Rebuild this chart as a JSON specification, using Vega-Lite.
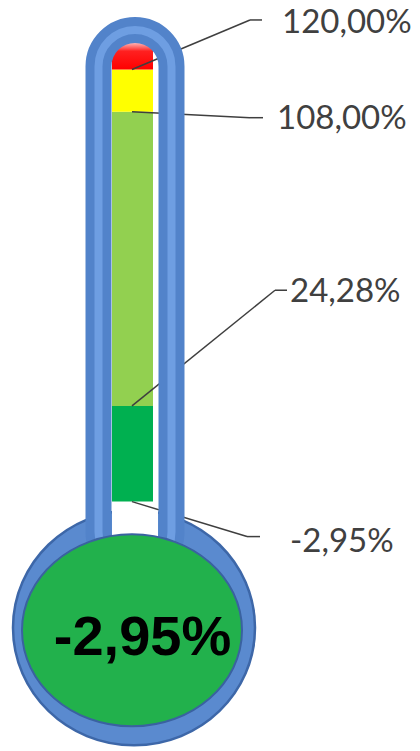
{
  "$schema": "https://vega.github.io/schema/vega-lite/v6.json",
  "width": 420,
  "height": 751,
  "autosize": {"type": "fit", "contains": "padding"},
  "padding": 0,
  "background": "white",
  "config": {"view": {"stroke": null}},
  "datasets": {
    "segments": [
      {"segment": "a", "start": -2.95, "end": 24.28},
      {"segment": "b", "start": 24.28, "end": 108},
      {"segment": "c", "start": 108, "end": 120},
      {"segment": "d", "start": 120, "end": 128}
    ],
    "labels": [
      {"label": "120,00%", "value": 120, "lineY": 134.1, "elbowX": 250, "lineEndX": 262, "labelX": 282, "labelY": 133.25},
      {"label": "108,00%", "value": 108, "lineY": 106.29, "elbowX": 250, "lineEndX": 263, "labelX": 277, "labelY": 106.01},
      {"label": "24,28%", "value": 24.28, "lineY": 57.2, "elbowX": 275, "lineEndX": 287, "labelX": 290, "labelY": 56.63},
      {"label": "-2,95%", "value": -2.95, "lineY": -12.9, "elbowX": 247, "lineEndX": 260, "labelX": 290, "labelY": -14.32}
    ],
    "bulb": [{"text": "-2,95%", "value": -2.95}]
  },
  "layer": [
    {
      "data": {"name": "bulb"},
      "mark": {
        "type": "point",
        "shape": "M1.0298,0C1.0298,0.5523 0.5687,1 0,1C-0.5687,1 -1.0298,0.5523 -1.0298,0C-1.0298,-0.5523 -0.5687,-1 0,-1C0.5687,-1 1.0298,-0.5523 1.0298,0Z",
        "size": 55225,
        "filled": true,
        "fill": "#5A8ACF",
        "stroke": "#3D67A8",
        "strokeWidth": 2.5,
        "opacity": 1,
        "fillOpacity": 1
      },
      "encoding": {
        "x": {"datum": 134, "type": "quantitative", "scale": {"domain": [0, 420], "nice": false, "zero": false}, "axis": null},
        "y": {"datum": -38.87, "type": "quantitative", "scale": {"domain": [-73.34, 139.78], "nice": false, "zero": false}, "axis": null}
      }
    },
    {
      "data": {"name": "bulb"},
      "mark": {"type": "rect", "fill": "white"},
      "encoding": {
        "x": {"datum": 112, "type": "quantitative", "scale": {"domain": [0, 420], "nice": false, "zero": false}, "axis": null},
        "x2": {"datum": 158},
        "y": {"datum": 128.43, "type": "quantitative", "scale": {"domain": [-73.34, 139.78], "nice": false, "zero": false}, "axis": null},
        "y2": {"datum": -14.89}
      }
    },
    {
      "data": {"name": "segments"},
      "transform": [{"filter": "datum.segment != 'd'"}],
      "mark": {"type": "rect"},
      "encoding": {
        "x": {"datum": 112, "type": "quantitative", "scale": {"domain": [0, 420], "nice": false, "zero": false}, "axis": null},
        "x2": {"datum": 153},
        "y": {"field": "start", "type": "quantitative", "scale": {"domain": [-73.34, 139.78], "nice": false, "zero": false}, "axis": null},
        "y2": {"field": "end"},
        "color": {"field": "segment", "type": "nominal", "scale": {"domain": ["a", "b", "c", "d"], "range": ["#00B050", "#92D050", "#FFFF00", "#FF0000"]}, "legend": null}
      }
    },
    {
      "data": {"name": "segments"},
      "transform": [{"filter": "datum.segment == 'd'"}],
      "mark": {
        "type": "rect",
        "fill": {"gradient": "linear", "x1": 0, "y1": 0, "x2": 0, "y2": 1, "stops": [{"offset": 0, "color": "#FFD0D0"}, {"offset": 0.35, "color": "#FF2020"}, {"offset": 1, "color": "#FF0000"}]}
      },
      "encoding": {
        "x": {"datum": 112, "type": "quantitative", "scale": {"domain": [0, 420], "nice": false, "zero": false}, "axis": null},
        "x2": {"datum": 153},
        "y": {"field": "start", "type": "quantitative", "scale": {"domain": [-73.34, 139.78], "nice": false, "zero": false}, "axis": null},
        "y2": {"field": "end"}
      }
    },
    {
      "data": {"name": "labels"},
      "mark": {"type": "rule", "stroke": "#3F3F3F", "strokeWidth": 1.5},
      "encoding": {
        "x": {"field": "elbowX", "type": "quantitative", "scale": {"domain": [0, 420], "nice": false, "zero": false}, "axis": null},
        "x2": {"datum": 132},
        "y": {"field": "lineY", "type": "quantitative", "scale": {"domain": [-73.34, 139.78], "nice": false, "zero": false}, "axis": null},
        "y2": {"field": "value"}
      }
    },
    {
      "data": {"name": "labels"},
      "mark": {"type": "rule", "stroke": "#3F3F3F", "strokeWidth": 1.5},
      "encoding": {
        "x": {"field": "elbowX", "type": "quantitative", "scale": {"domain": [0, 420], "nice": false, "zero": false}, "axis": null},
        "x2": {"field": "lineEndX"},
        "y": {"field": "lineY", "type": "quantitative", "scale": {"domain": [-73.34, 139.78], "nice": false, "zero": false}, "axis": null}
      }
    },
    {
      "data": {"name": "bulb"},
      "mark": {"type": "rect", "fill": "transparent", "stroke": "#5283CA", "strokeWidth": 26, "cornerRadius": 36.5},
      "encoding": {
        "x": {"datum": 98.5, "type": "quantitative", "scale": {"domain": [0, 420], "nice": false, "zero": false}, "axis": null},
        "x2": {"datum": 171.5},
        "y": {"datum": 131.27, "type": "quantitative", "scale": {"domain": [-73.34, 139.78], "nice": false, "zero": false}, "axis": null},
        "y2": {"datum": -21.98}
      }
    },
    {
      "data": {"name": "bulb"},
      "mark": {"type": "rect", "fill": "transparent", "stroke": "#6E9EE2", "strokeWidth": 8, "cornerRadius": 36.5},
      "encoding": {
        "x": {"datum": 98.5, "type": "quantitative", "scale": {"domain": [0, 420], "nice": false, "zero": false}, "axis": null},
        "x2": {"datum": 171.5},
        "y": {"datum": 131.27, "type": "quantitative", "scale": {"domain": [-73.34, 139.78], "nice": false, "zero": false}, "axis": null},
        "y2": {"datum": -21.98}
      }
    },
    {
      "data": {"name": "bulb"},
      "mark": {
        "type": "point",
        "shape": "M1.1458,0C1.1458,0.5523 0.6328,1 0,1C-0.6328,1 -1.1458,0.5523 -1.1458,0C-1.1458,-0.5523 -0.6328,-1 0,-1C0.6328,-1 1.1458,-0.5523 1.1458,0Z",
        "size": 36864,
        "filled": true,
        "fill": "#22B14C",
        "stroke": "#3A62A0",
        "strokeWidth": 2,
        "opacity": 1,
        "fillOpacity": 1
      },
      "encoding": {
        "x": {"datum": 132, "type": "quantitative", "scale": {"domain": [0, 420], "nice": false, "zero": false}, "axis": null},
        "y": {"datum": -39.58, "type": "quantitative", "scale": {"domain": [-73.34, 139.78], "nice": false, "zero": false}, "axis": null}
      }
    },
    {
      "data": {"name": "labels"},
      "mark": {"type": "text", "align": "left", "baseline": "middle", "font": "Lato", "fontSize": 33, "fill": "#404040"},
      "encoding": {
        "x": {"field": "labelX", "type": "quantitative", "scale": {"domain": [0, 420], "nice": false, "zero": false}, "axis": null},
        "y": {"field": "labelY", "type": "quantitative", "scale": {"domain": [-73.34, 139.78], "nice": false, "zero": false}, "axis": null},
        "text": {"field": "label"}
      }
    },
    {
      "data": {"name": "bulb"},
      "mark": {"type": "text", "align": "center", "baseline": "alphabetic", "font": "Liberation Sans", "fontWeight": "bold", "fontSize": 56, "fill": "black"},
      "encoding": {
        "x": {"datum": 142.5, "type": "quantitative", "scale": {"domain": [0, 420], "nice": false, "zero": false}, "axis": null},
        "y": {"datum": -46.67, "type": "quantitative", "scale": {"domain": [-73.34, 139.78], "nice": false, "zero": false}, "axis": null},
        "text": {"field": "text"}
      }
    }
  ]
}
